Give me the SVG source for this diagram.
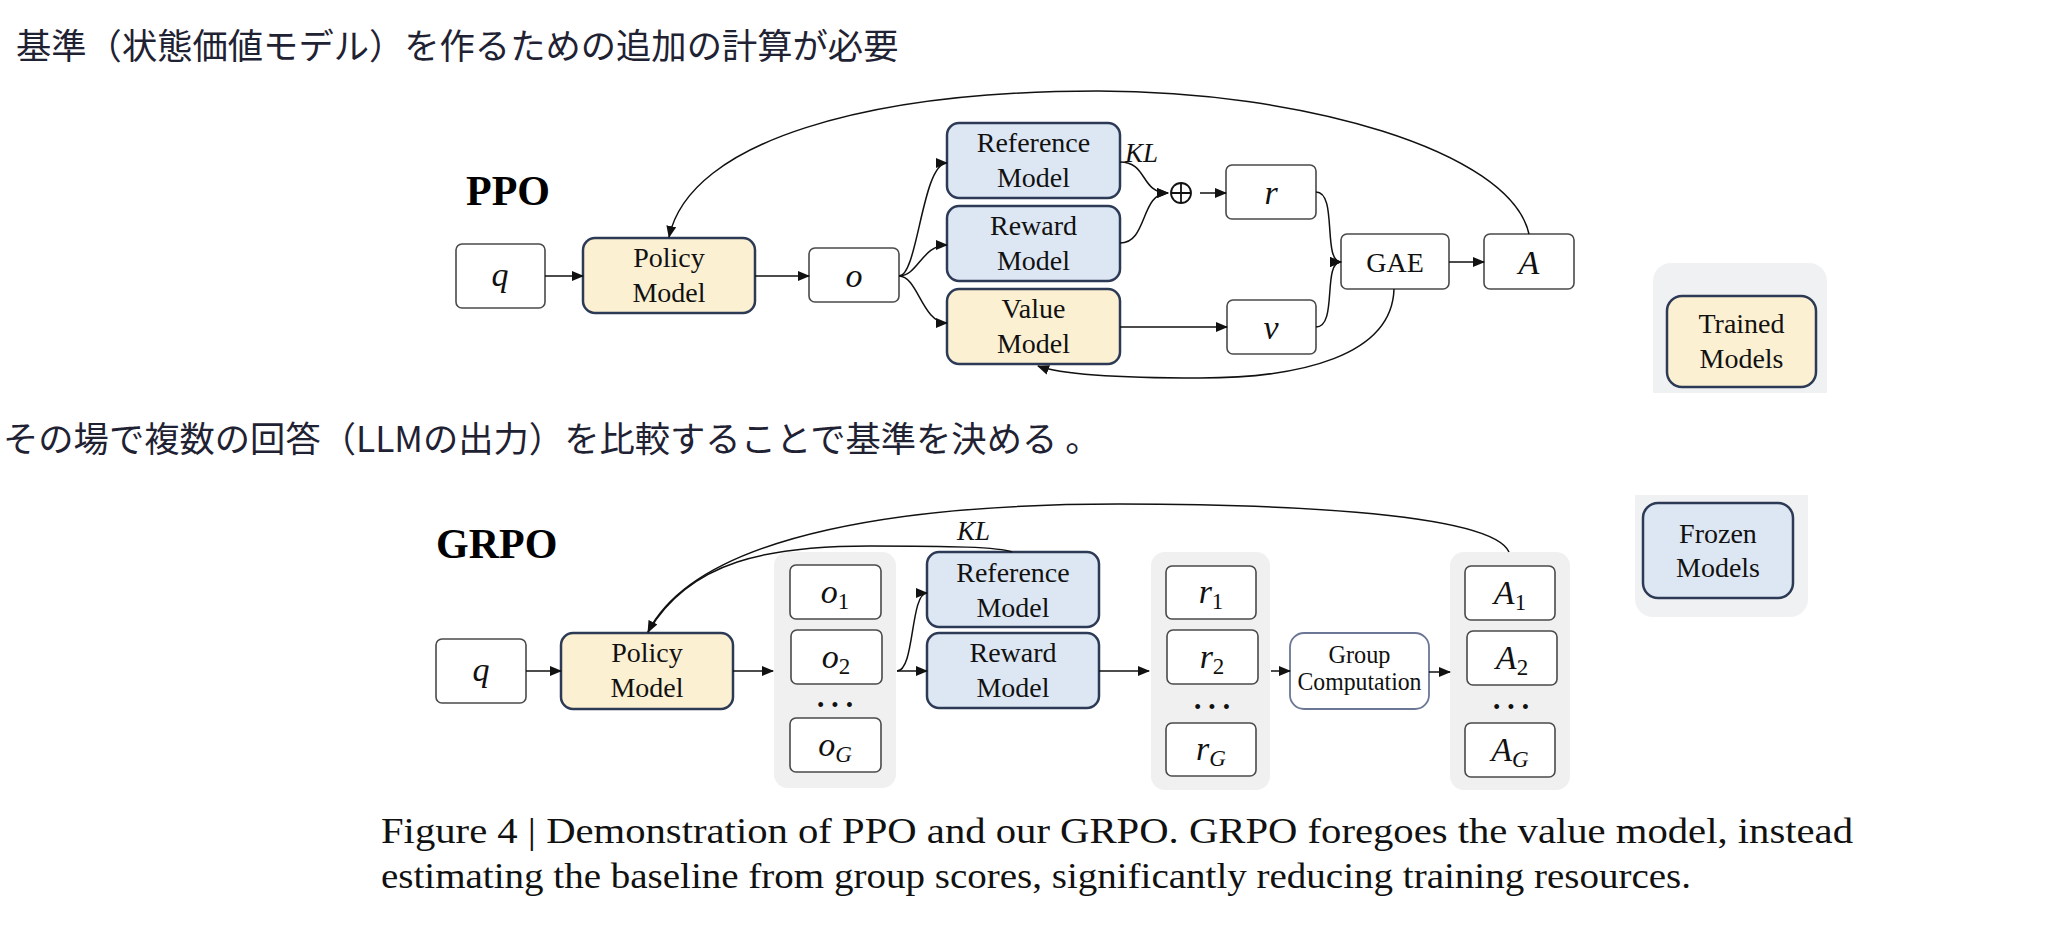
<svg xmlns="http://www.w3.org/2000/svg" width="2068" height="932" viewBox="0 0 2068 932">
<defs>
<marker id="arr" markerUnits="userSpaceOnUse" markerWidth="12" markerHeight="10" refX="11" refY="5" orient="auto">
<path d="M0,0 L12,5 L0,10 z" fill="#111"/>
</marker>
<style>
.jp{font-family:"Noto Sans CJK JP",sans-serif;font-size:35.3px;fill:#1f2233}
.title{font-family:"Liberation Serif",serif;font-size:42px;font-weight:bold;fill:#000}
.model{stroke:#2c3a56;stroke-width:2.5}
.trained{fill:#fcf0d2}
.frozen{fill:#dde7f3}
.box{fill:#fff;stroke:#4a4a4a;stroke-width:1.6}
.col{fill:#f0f0f0}
.leg{fill:#f0f1f3}
.lbl{font-family:"Liberation Serif",serif;font-size:28px;fill:#111;text-anchor:middle}
.math{font-family:"Liberation Serif",serif;font-style:italic;font-size:34px;fill:#111;text-anchor:middle}
.sub{font-size:23px;font-style:normal}
.subi{font-size:23px;font-style:italic}
.kl{font-family:"Liberation Serif",serif;font-style:italic;font-size:27px;fill:#111}
.conn{fill:none;stroke:#111;stroke-width:1.5}
.cap{font-family:"Liberation Serif",serif;font-size:36px;fill:#111}
.dots{font-family:"Liberation Sans",sans-serif;font-size:18px;fill:#111;text-anchor:middle;letter-spacing:8px}
</style>
</defs>
<rect width="2068" height="932" fill="#fff"/>

<text class="jp" x="16" y="59">基準（状態価値モデル）を作るための追加の計算が必要</text>
<text class="jp" x="3" y="452">その場で複数の回答（LLMの出力）を比較することで基準を決める 。</text>

<text class="title" x="466" y="205">PPO</text>
<text class="title" x="436" y="558">GRPO</text>

<!-- Legend -->
<g id="legend-trained">
<path class="leg" d="M1671,263 H1809 A18,18 0 0 1 1827,281 V393 H1653 V281 A18,18 0 0 1 1671,263 Z"/>
<rect class="model trained" x="1667" y="296" width="149" height="91" rx="15"/>
<text class="lbl" x="1741.5" y="333">Trained</text>
<text class="lbl" x="1741.5" y="368">Models</text>
</g>
<g id="legend-frozen">
<path class="leg" d="M1635,495 H1808 V599 A18,18 0 0 1 1790,617 H1653 A18,18 0 0 1 1635,599 Z"/>
<rect class="model frozen" x="1643" y="503" width="150" height="95" rx="15"/>
<text class="lbl" x="1718" y="543">Frozen</text>
<text class="lbl" x="1718" y="577">Models</text>
</g>

<!-- PPO nodes -->
<g id="ppo-q"><rect class="box" x="456" y="244" width="89" height="64" rx="6"/><text class="math" x="500" y="286">q</text></g>
<g id="ppo-policy"><rect class="model trained" x="583" y="238" width="172" height="75" rx="12"/><text class="lbl" x="669" y="267">Policy</text><text class="lbl" x="669" y="302">Model</text></g>
<g id="ppo-o"><rect class="box" x="809" y="248" width="90" height="54" rx="6"/><text class="math" x="854" y="287">o</text></g>
<g id="ppo-ref"><rect class="model frozen" x="947" y="123" width="173" height="75" rx="12"/><text class="lbl" x="1033.5" y="152">Reference</text><text class="lbl" x="1033.5" y="187">Model</text></g>
<g id="ppo-reward"><rect class="model frozen" x="947" y="206" width="173" height="75" rx="12"/><text class="lbl" x="1033.5" y="235">Reward</text><text class="lbl" x="1033.5" y="270">Model</text></g>
<g id="ppo-value"><rect class="model trained" x="947" y="289" width="173" height="75" rx="12"/><text class="lbl" x="1033.5" y="318">Value</text><text class="lbl" x="1033.5" y="353">Model</text></g>
<g id="ppo-plus"><circle cx="1181" cy="193" r="10" fill="none" stroke="#111" stroke-width="1.8"/><path d="M1171,193 H1191 M1181,183 V203" stroke="#111" stroke-width="1.8"/></g>
<g id="ppo-r"><rect class="box" x="1226" y="165" width="90" height="54" rx="6"/><text class="math" x="1271" y="204">r</text></g>
<g id="ppo-v"><rect class="box" x="1227" y="300" width="89" height="54" rx="6"/><text class="math" x="1271" y="339">v</text></g>
<g id="ppo-gae"><rect class="box" x="1341" y="234" width="108" height="55" rx="6"/><text class="lbl" x="1395" y="272">GAE</text></g>
<g id="ppo-a"><rect class="box" x="1484" y="234" width="90" height="55" rx="6"/><text class="math" x="1529" y="274">A</text></g>

<!-- GRPO nodes -->
<g id="grpo-q"><rect class="box" x="436" y="639" width="90" height="64" rx="6"/><text class="math" x="481" y="681">q</text></g>
<g id="grpo-policy"><rect class="model trained" x="561" y="633" width="172" height="76" rx="12"/><text class="lbl" x="647" y="662">Policy</text><text class="lbl" x="647" y="697">Model</text></g>
<g id="grpo-outputs">
<rect class="col" x="774" y="552" width="122" height="236" rx="14"/>
<rect class="box" x="790" y="565" width="91" height="54" rx="6"/><text class="math" x="835" y="603">o<tspan class="sub" dy="6">1</tspan></text>
<rect class="box" x="791" y="630" width="91" height="54" rx="6"/><text class="math" x="836" y="668">o<tspan class="sub" dy="6">2</tspan></text>
<text class="dots" x="839" y="711">•••</text>
<rect class="box" x="790" y="718" width="91" height="54" rx="6"/><text class="math" x="835" y="756">o<tspan class="subi" dy="6">G</tspan></text>
</g>
<g id="grpo-ref"><rect class="model frozen" x="927" y="552" width="172" height="75" rx="12"/><text class="lbl" x="1013" y="582">Reference</text><text class="lbl" x="1013" y="617">Model</text></g>
<g id="grpo-reward"><rect class="model frozen" x="927" y="633" width="172" height="75" rx="12"/><text class="lbl" x="1013" y="662">Reward</text><text class="lbl" x="1013" y="697">Model</text></g>
<g id="grpo-rewards">
<rect class="col" x="1151" y="552" width="119" height="238" rx="14"/>
<rect class="box" x="1166" y="566" width="90" height="53" rx="6"/><text class="math" x="1211" y="603">r<tspan class="sub" dy="6">1</tspan></text>
<rect class="box" x="1167" y="630" width="91" height="54" rx="6"/><text class="math" x="1212" y="668">r<tspan class="sub" dy="6">2</tspan></text>
<text class="dots" x="1216" y="713">•••</text>
<rect class="box" x="1166" y="723" width="90" height="53" rx="6"/><text class="math" x="1211" y="760">r<tspan class="subi" dy="6">G</tspan></text>
</g>
<g id="grpo-group"><rect x="1290" y="633" width="139" height="76" rx="14" fill="#fff" stroke="#6b7794" stroke-width="1.8"/><text class="lbl" x="1359.5" y="663" style="font-size:25px" textLength="62" lengthAdjust="spacingAndGlyphs">Group</text><text class="lbl" x="1359.5" y="690" style="font-size:25px" textLength="124" lengthAdjust="spacingAndGlyphs">Computation</text></g>
<g id="grpo-advantages">
<rect class="col" x="1450" y="552" width="120" height="238" rx="14"/>
<rect class="box" x="1465" y="566" width="90" height="54" rx="6"/><text class="math" x="1510" y="604">A<tspan class="sub" dy="6">1</tspan></text>
<rect class="box" x="1467" y="631" width="90" height="54" rx="6"/><text class="math" x="1512" y="669">A<tspan class="sub" dy="6">2</tspan></text>
<text class="dots" x="1515" y="713">•••</text>
<rect class="box" x="1465" y="723" width="90" height="54" rx="6"/><text class="math" x="1510" y="761">A<tspan class="subi" dy="6">G</tspan></text>
</g>

<!-- Connectors -->
<g id="connectors">
<path class="conn" d="M545,276 H583" marker-end="url(#arr)"/>
<path class="conn" d="M755,276 H809" marker-end="url(#arr)"/>
<path class="conn" d="M899,276 C918,276 922,163 947,163" marker-end="url(#arr)"/>
<path class="conn" d="M899,276 C918,276 922,245 947,245" marker-end="url(#arr)"/>
<path class="conn" d="M899,276 C918,276 922,323 947,323" marker-end="url(#arr)"/>
<path class="conn" d="M1120,162 C1148,162 1140,193 1168,193" marker-end="url(#arr)"/>
<path class="conn" d="M1120,243 C1148,243 1140,193 1168,193" marker-end="url(#arr)"/>
<path class="conn" d="M1200,193 H1226" marker-end="url(#arr)"/>
<path class="conn" d="M1316,192 C1338,192 1322,262 1341,262" marker-end="url(#arr)"/>
<path class="conn" d="M1316,327 C1338,327 1322,262 1341,262" marker-end="url(#arr)"/>
<path class="conn" d="M1449,262 H1484" marker-end="url(#arr)"/>
<path class="conn" d="M1120,327 H1227" marker-end="url(#arr)"/>
<path class="conn" d="M1394,289 C1392,356 1300,378 1200,378 C1120,378 1062,375 1038,366" marker-end="url(#arr)"/>
<path class="conn" d="M1529,234 C1510,150 1300,91 1098,91 C870,91 690,140 669,237" marker-end="url(#arr)"/>
<text class="kl" x="1125" y="162">KL</text>

<path class="conn" d="M526,671 H561" marker-end="url(#arr)"/>
<path class="conn" d="M733,671 H773" marker-end="url(#arr)"/>
<path class="conn" d="M897,671 C915,671 910,593 927,593" marker-end="url(#arr)"/>
<path class="conn" d="M897,671 H927" marker-end="url(#arr)"/>
<path class="conn" d="M1099,671 H1149" marker-end="url(#arr)"/>
<path class="conn" d="M1271,671 H1290" marker-end="url(#arr)"/>
<path class="conn" d="M1429,672 H1450" marker-end="url(#arr)"/>
<path class="conn" d="M1012,552 C1000,547 950,546 870,546 C770,546 690,560 648,632"/>
<path class="conn" d="M1509,552 C1490,510 1250,504 1119,504 C920,504 700,530 648,632" marker-end="url(#arr)"/>
<text class="kl" x="957" y="540">KL</text>
</g>

<text class="cap" x="381" y="843" textLength="1472" lengthAdjust="spacingAndGlyphs">Figure 4 | Demonstration of PPO and our GRPO. GRPO foregoes the value model, instead</text>
<text class="cap" x="381" y="888" textLength="1310" lengthAdjust="spacingAndGlyphs">estimating the baseline from group scores, significantly reducing training resources.</text>
</svg>
